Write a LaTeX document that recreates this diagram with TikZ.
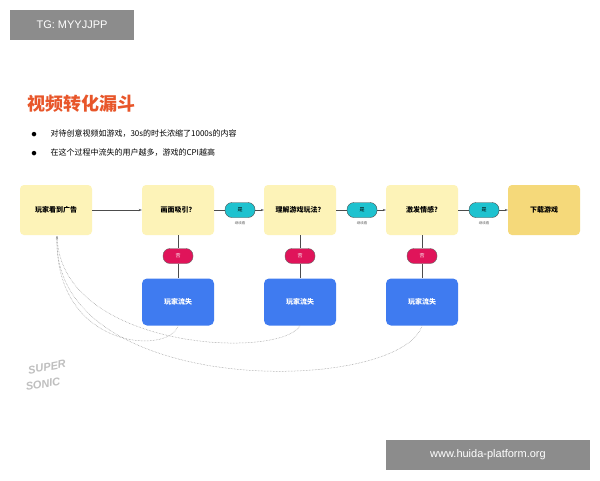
\documentclass[tikz,border=0pt]{standalone}
\usepackage{fontspec}
\usetikzlibrary{arrows.meta}
\setmainfont{Noto Sans CJK SC}
\newfontfamily\lat{Liberation Sans}
\begin{document}
\begin{tikzpicture}[x=1pt,y=-1pt,
 ybox/.style={fill=ylw,rounded corners=4pt,minimum width=72pt,minimum height=50pt,font=\fontsize{7}{8}\selectfont\bfseries},
 bbox/.style={fill=blu,rounded corners=5pt,minimum width=72pt,minimum height=47pt,text=white,font=\fontsize{7}{8}\selectfont\bfseries},
 yespill/.style={fill=tealc,draw=black!70,line width=0.4pt,rounded corners=7pt,minimum width=30pt,minimum height=15pt,inner sep=0pt,font=\fontsize{5}{6}\selectfont},
 nopill/.style={fill=redc,draw=black!60,line width=0.4pt,rounded corners=7pt,minimum width=30pt,minimum height=15pt,inner sep=0pt,text=white,font=\fontsize{5}{6}\selectfont},
 lnk/.style={draw=black!70,line width=0.5pt},
 arr/.style={lnk,-{Stealth[length=3pt]}},
 dot/.style={draw=black!45,densely dotted,line width=0.5pt},
 logof/.style={rotate=10,text=black!25,inner sep=0pt,font=\lat\fontsize{11}{11}\selectfont\bfseries\itshape}]
\definecolor{ylw}{HTML}{FDF3B8}
\definecolor{ylw2}{HTML}{F5D97A}
\definecolor{blu}{HTML}{3F7BF0}
\definecolor{tealc}{HTML}{1EC2CF}
\definecolor{redc}{HTML}{E0145A}
\definecolor{orng}{HTML}{E8562A}
\useasboundingbox (0,0) rectangle (600,480);
\fill[white] (0,0) rectangle (600,480);
\node[fill=black!45,text=white,minimum width=124pt,minimum height=30pt,font=\lat\fontsize{11}{12}\selectfont] (tg) at (72,25) {TG: MYYJJPP};
\node[fill=black!45,text=white,minimum width=204pt,minimum height=30pt,font=\lat\fontsize{11}{12}\selectfont] (wm) at (488,455) {www.huida-platform.org};
\node[anchor=west,text=orng,font=\fontsize{18}{20}\selectfont\bfseries] (title) at (24,104) {视频转化漏斗};
\node[anchor=west,font=\fontsize{8}{9}\selectfont] (b1) at (28,134) {{\fontsize{5}{6}\selectfont●}\hspace{14pt}对待创意视频如游戏，30s的时长浓缩了1000s的内容};
\node[anchor=west,font=\fontsize{8}{9}\selectfont] (b2) at (28,153) {{\fontsize{5}{6}\selectfont●}\hspace{14pt}在这个过程中流失的用户越多，游戏的CPI越高};
\node[ybox] (a) at (56,210) {玩家看到广告};
\node[ybox] (q1) at (178,210) {画面吸引？};
\node[ybox] (q2) at (300,210) {理解游戏玩法？};
\node[ybox] (q3) at (422,210) {激发情感?};
\node[ybox,fill=ylw2] (d) at (544,210) {下载游戏};
\draw[arr] (a) -- (q1);
\foreach \s/\t/\x in {q1/q2/240,q2/q3/362,q3/d/484}{
 \node[yespill] (y\s) at (\x,210) {是};
 \node[font=\fontsize{3.5}{4}\selectfont,text=black!60] (c\s) at (\x,223) {继续看};
 \draw[lnk] (\s) -- (y\s);
 \draw[arr] (y\s) -- (\t);
}
\foreach \s/\x in {q1/178,q2/300,q3/422}{
 \node[nopill] (n\s) at (\x,256) {否};
 \node[bbox] (l\s) at (\x,302) {玩家流失};
 \draw[lnk] (\s) -- (n\s);
 \draw[lnk] (n\s) -- (l\s);
}
\coordinate (t) at (57,236);
\draw[dot,-{Stealth[length=3pt]}] (lq1.south) .. controls (170,355) and (55,350) .. (t);
\draw[dot] (lq2.south) .. controls (280,360) and (60,350) .. (t);
\draw[dot] (lq3.south) .. controls (400,395) and (50,400) .. (t);
\node[logof] (logo1) at (47,367) {SUPER};
\node[logof] (logo2) at (43,384) {SONIC};
\end{tikzpicture}
\end{document}
